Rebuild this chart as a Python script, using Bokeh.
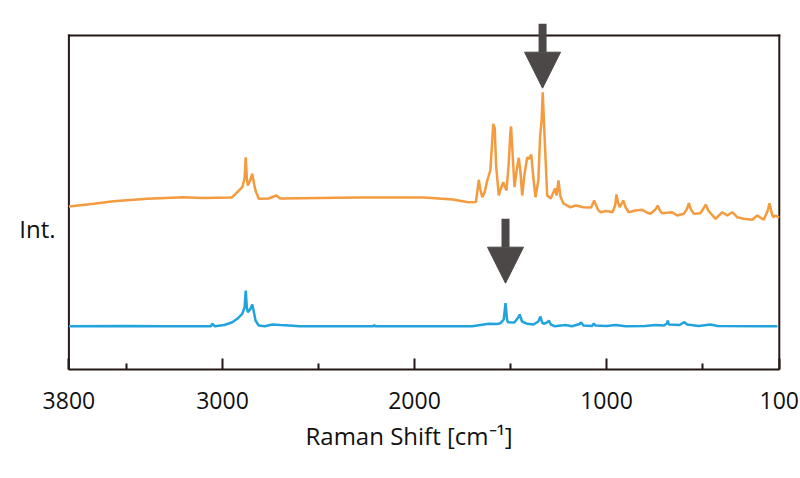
from bokeh.plotting import figure
from bokeh.models import Range1d, FixedTicker, Arrow, NormalHead, Title
from bokeh.embed import file_html
from bokeh.resources import INLINE

# Raman shift (cm-1) and intensity (arbitrary units) for the two spectra
orange_x = [3800, 3670, 3568, 3392, 3203, 3100, 2960, 2949, 2923, 2897, 2885, 2879, 2873, 2868,
            2856, 2845, 2835, 2828, 2811, 2760, 2719, 2700, 2500, 2300, 2100, 1950, 1800, 1720,
            1680, 1672, 1665, 1658, 1647, 1635, 1621, 1605, 1595, 1590, 1582, 1575, 1561, 1550,
            1538, 1521, 1510, 1500, 1497, 1490, 1479, 1468, 1457, 1449, 1439, 1428, 1413, 1402,
            1392, 1382, 1370, 1355, 1346, 1338, 1332, 1326, 1320, 1309, 1290, 1268, 1260, 1250,
            1240, 1224, 1190, 1160, 1120, 1080, 1064, 1045, 1032, 1000, 969, 955, 948, 940, 931,
            913, 900, 884, 850, 814, 790, 771, 745, 733, 722, 710, 658, 632, 597, 580, 571, 560,
            545, 510, 495, 483, 470, 432, 397, 371, 345, 319, 285, 241, 215, 181, 160, 151, 140,
            132, 120, 104, 100]
orange_y = [163, 165.7, 168.3, 170.7, 172.3, 171.5, 172, 172.3, 177.3, 182.3, 191, 212.3, 191, 184,
            189, 195.7, 185, 179, 170.7, 171, 174, 171, 171.5, 172, 172, 172, 170, 167.3,
            167.5, 179, 189.7, 181, 172.3, 177, 189, 199, 229, 245.7, 241, 204, 174, 181,
            187.3, 179, 204, 239, 243, 219, 182.3, 199, 211.7, 199, 174, 194, 212, 211,
            215, 194, 172.3, 189, 232.3, 249, 277.3, 249, 222.3, 174, 171, 181, 174, 189,
            173, 166, 162.3, 164, 162.3, 162, 169, 160, 157.3, 158.5, 157.3, 164, 175, 167, 162.3,
            169, 162, 157.3, 159, 159.7, 157, 155.7, 160, 164, 159, 156.3, 157.3, 154, 155.7, 161, 166.3, 160,
            155.7, 156.3, 161, 165, 159, 150.7, 157.3, 154, 157.3, 152.3, 150.7, 149.7, 154, 149.7, 159, 166.3, 157,
            152.3, 154, 152.3, 152]

blue_x = [3800, 3500, 3300, 3060, 3054, 3040, 2990, 2949, 2923, 2897, 2885, 2879, 2873, 2868, 2856,
          2845, 2835, 2828, 2811, 2780, 2740, 2700, 2650, 2600, 2215, 2210, 2205, 1700, 1613, 1570,
          1552, 1535, 1526, 1518, 1514, 1480, 1460, 1452, 1440, 1413, 1380, 1355, 1344, 1335, 1327,
          1310, 1300, 1290, 1270, 1214, 1180, 1140, 1132, 1120, 1075, 1066, 1058, 1000, 953, 900,
          800, 744, 700, 685, 681, 675, 620, 594, 580, 520, 459, 420, 200, 110]
blue_y = [43.3, 43.5, 43.3, 43.3, 45.7, 43.3, 44.5, 47.3, 50.7, 55.7, 62, 79, 62, 57.3, 60,
          65, 56, 49, 44, 43.3, 45, 44.5, 44, 43.3, 43.3, 44.5, 43.3, 43.3, 45.7, 45.5,
          46.3, 50, 66.3, 50, 47.3, 47, 52, 55, 48, 45.7, 45, 48, 53, 47, 45.7,
          47, 49, 45, 43.3, 44.5, 43.3, 45.5, 47, 44, 43.5, 46, 44, 43.5, 44.5, 43.3,
          43.5, 44.5, 44, 46, 49, 45, 44.5, 47.3, 45, 43.5, 45, 43.6, 43.3, 43.3]

tick_values = [3800, 3000, 2000, 1000, 100]
minor_tick_values = [3500, 2500, 1500, 500]
y_label_pos = [141]
y_label_text = ["Int."]
x_title = "Raman Shift [cm⁻¹]"

# marked peaks (Raman shift) and arrow extents (intensity units)
arrow_peaks = [1333, 1526]
arrow_top = [345.7, 150.7]
arrow_tip = [281.3, 86.3]

# plotted box (data limits)
X_MAX, X_MIN, Y_MIN, Y_MAX = 3800, 100, 0, 334

DARK = "#231815"
ORANGE = "#F39B3E"
BLUE = "#22A3DE"
ARROW = "#4B4847"
TEXT = "#111111"
FONT = "Open Sans"

p = figure(width=800, height=478, output_backend="svg", toolbar_location=None,
           x_range=Range1d(3812.5, 88.5), y_range=Range1d(0, 351),
           min_border_left=66, min_border_right=19, min_border_top=18, min_border_bottom=109)
p.background_fill_color = "white"
p.border_fill_color = "white"
p.xgrid.visible = False
p.ygrid.visible = False
p.outline_line_color = None

# box edges (left, right, top); bottom edge is the x axis line
p.segment(x0=[X_MAX, X_MIN, X_MAX], y0=[Y_MIN, Y_MIN, Y_MAX],
          x1=[X_MAX, X_MIN, X_MIN], y1=[Y_MAX, Y_MAX, Y_MAX],
          line_color=DARK, line_width=2, line_cap="square")

p.line(orange_x, orange_y, line_color=ORANGE, line_width=2.5)
p.line(blue_x, blue_y, line_color=BLUE, line_width=2.5)

ax = p.xaxis[0]
ax.bounds = (X_MIN, X_MAX)
ax.ticker = FixedTicker(ticks=tick_values, minor_ticks=minor_tick_values)
ax.axis_line_color = DARK
ax.axis_line_width = 2
ax.major_tick_line_color = DARK
ax.major_tick_line_width = 2
ax.major_tick_in = 11
ax.major_tick_out = 0
ax.minor_tick_line_color = DARK
ax.minor_tick_line_width = 2
ax.minor_tick_in = 6
ax.minor_tick_out = 0
ax.major_label_text_font = FONT
ax.major_label_text_font_size = "23px"
ax.major_label_text_color = TEXT
ax.major_label_standoff = 22

# axis title, placed slightly left of centre as in the source
p.add_layout(Title(text=x_title, align="left", offset=239, vertical_align="top",
                   standoff=15, text_font=FONT, text_font_size="24px",
                   text_font_style="normal", text_color=TEXT), "below")

ay = p.yaxis[0]
ay.ticker = FixedTicker(ticks=y_label_pos, minor_ticks=[])
ay.major_label_overrides = {v: t for v, t in zip(y_label_pos, y_label_text)}
ay.axis_line_color = None
ay.major_tick_line_color = None
ay.minor_tick_line_color = None
ay.major_tick_in = 0
ay.major_tick_out = 0
ay.major_label_text_font = FONT
ay.major_label_text_font_size = "24px"
ay.major_label_text_color = TEXT
ay.major_label_standoff = 11

for xp, yt, ye in zip(arrow_peaks, arrow_top, arrow_tip):
    p.add_layout(Arrow(x_start=xp, y_start=yt, x_end=xp, y_end=ye,
                       line_color=ARROW, line_width=8,
                       end=NormalHead(size=36, fill_color=ARROW, line_color=ARROW, line_width=1)))

open("out.html", "w").write(file_html(p, INLINE))
